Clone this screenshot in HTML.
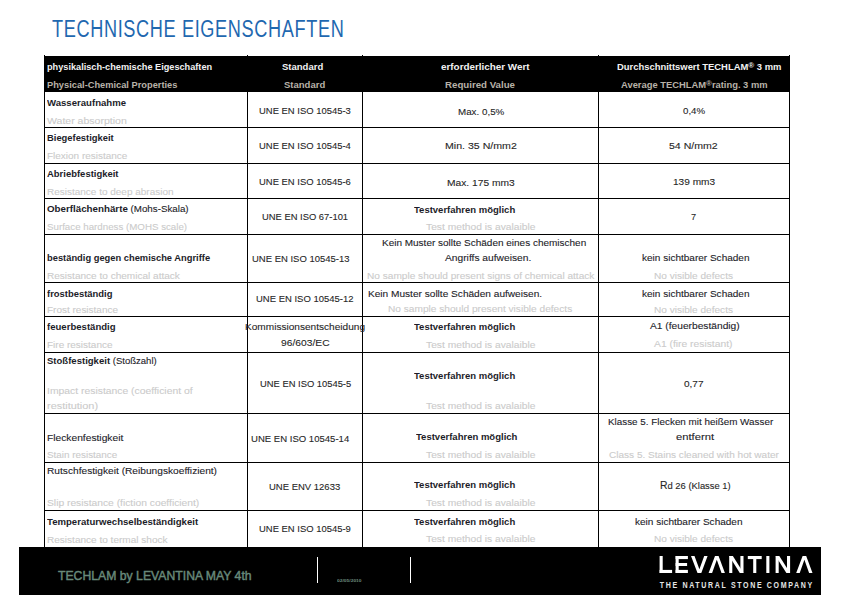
<!DOCTYPE html>
<html><head><meta charset="utf-8">
<style>
html,body{margin:0;padding:0;background:#fff;}
body{width:862px;height:608px;position:relative;overflow:hidden;font-family:"Liberation Sans",sans-serif;}
.t{position:absolute;white-space:nowrap;transform-origin:0 0;-webkit-text-stroke:0.1px currentColor;}
.t b{font-weight:bold;-webkit-text-stroke:0;}
.t.bb{-webkit-text-stroke:0;}
.t.g{-webkit-text-stroke:0.1px currentColor;}
.t.ti{-webkit-text-stroke:0;}
.t.ft{-webkit-text-stroke:0.45px currentColor;}
.t sup{font-size:8px;vertical-align:0;position:relative;top:-2.5px;}
.h{position:absolute;height:1px;background:#000;}
.v{position:absolute;width:1px;background:#000;}
#title{position:absolute;left:52px;top:18px;font-size:22px;line-height:22px;color:#2a6fb3;white-space:nowrap;transform-origin:0 0;}
#hdr{position:absolute;left:44px;top:56px;width:746px;height:36px;background:#000;}
#foot{position:absolute;left:19px;top:547px;width:802px;height:48px;background:#000;}
.fl{position:absolute;width:1px;height:26px;top:557px;background:#fff;}
</style></head><body>
<div id="hdr"></div>
<div class="h" style="left:44px;width:746px;top:127px"></div>
<div class="h" style="left:44px;width:746px;top:163px"></div>
<div class="h" style="left:44px;width:746px;top:198px"></div>
<div class="h" style="left:44px;width:746px;top:234px"></div>
<div class="h" style="left:44px;width:746px;top:282px"></div>
<div class="h" style="left:44px;width:746px;top:316px"></div>
<div class="h" style="left:44px;width:746px;top:352px"></div>
<div class="h" style="left:44px;width:746px;top:413px"></div>
<div class="h" style="left:44px;width:746px;top:462px"></div>
<div class="h" style="left:44px;width:746px;top:510px"></div>
<div class="v" style="left:44px;top:55px;height:492px"></div>
<div class="v" style="left:247px;top:55px;height:492px"></div>
<div class="v" style="left:362px;top:55px;height:492px"></div>
<div class="v" style="left:598px;top:55px;height:492px"></div>
<div class="v" style="left:789px;top:55px;height:492px"></div>
<div id="foot"></div>
<div class="fl" style="left:317px"></div>
<div class="fl" style="left:410px"></div>
<svg id="logo" style="position:absolute;left:0;top:0" width="862" height="608" viewBox="0 0 862 608">
<g fill="#fff">
<rect x="659.6" y="556" width="3.1" height="17"/>
<rect x="659.6" y="569.9" width="12.5" height="3.1"/>
<rect x="675.6" y="556" width="3.1" height="17"/>
<rect x="675.6" y="556" width="12.3" height="3.1"/>
<rect x="675.6" y="563" width="11.5" height="3"/>
<rect x="675.6" y="569.9" width="12.3" height="3.1"/>
<polygon points="691,556 694.5,556 699.4,569.3 704.2,556 707.6,556 701.3,573 697.5,573"/>
<polygon points="708.6,573 712.1,573 716.8,559.7 721.5,573 724.9,573 718.6,556 715,556"/>
<rect x="729.2" y="556" width="3.1" height="17"/>
<rect x="740.4" y="556" width="3.1" height="17"/>
<polygon points="729.2,556 732.9,556 743.5,573 739.8,573"/>
<rect x="747.8" y="556" width="13.9" height="3.1"/>
<rect x="753.2" y="556" width="3.1" height="17"/>
<rect x="766.3" y="556" width="3.1" height="17"/>
<rect x="775.6" y="556" width="3.1" height="17"/>
<rect x="787" y="556" width="3.1" height="17"/>
<polygon points="775.6,556 779.3,556 790.1,573 786.4,573"/>
<polygon points="796.2,573 799.7,573 804.4,559.7 809.1,573 812.5,573 806.2,556 802.6,556"/>
<text transform="translate(659.8,587.6) scale(0.8,1)" x="0" y="0" font-family="Liberation Sans" font-weight="bold" font-size="8.8" textLength="190.5" lengthAdjust="spacing" fill="#e6e6e6">THE NATURAL STONE COMPANY</text>

</g>
</svg>
<div class="t ti" style="left:52.00px;top:18.00px;font-size:23px;line-height:23px;font-weight:normal;color:#1f68b0;transform:scaleX(0.7889)"><span style="letter-spacing:0.8px">TECHNISCHE EIGENSCHAFTEN</span></div>
<div class="t bb" style="left:46.60px;top:62.00px;font-size:9.5px;line-height:9.5px;font-weight:bold;color:#f2f2f2;transform:scaleX(0.9651)">physikalisch-chemische Eigeschaften</div>
<div class="t bb" style="left:46.60px;top:80.00px;font-size:9.5px;line-height:9.5px;font-weight:bold;color:#b8b2a8;transform:scaleX(0.9761)">Physical-Chemical Properties</div>
<div class="t bb" style="left:282.00px;top:62.00px;font-size:9.5px;line-height:9.5px;font-weight:bold;color:#f2f2f2;transform:scaleX(1.0003)">Standard</div>
<div class="t bb" style="left:284.20px;top:80.00px;font-size:9.5px;line-height:9.5px;font-weight:bold;color:#b8b2a8;transform:scaleX(1.0003)">Standard</div>
<div class="t bb" style="left:440.60px;top:62.00px;font-size:9.5px;line-height:9.5px;font-weight:bold;color:#f2f2f2;transform:scaleX(1.0380)">erforderlicher Wert</div>
<div class="t bb" style="left:445.40px;top:80.00px;font-size:9.5px;line-height:9.5px;font-weight:bold;color:#b8b2a8;transform:scaleX(1.0198)">Required Value</div>
<div class="t bb" style="left:616.80px;top:62.00px;font-size:9.5px;line-height:9.5px;font-weight:bold;color:#f2f2f2;transform:scaleX(0.9912)">Durchschnittswert TECHLAM<sup>&reg;</sup> 3 mm</div>
<div class="t bb" style="left:620.60px;top:80.00px;font-size:9.5px;line-height:9.5px;font-weight:bold;color:#b8b2a8;transform:scaleX(0.9863)">Average TECHLAM<sup>&reg;</sup>rating. 3 mm</div>
<div class="t" style="left:46.90px;top:98.00px;font-size:9.5px;line-height:9.5px;font-weight:normal;color:#1c1c28;transform:scaleX(1.0099)"><b>Wasseraufnahme</b></div>
<div class="t g" style="left:46.90px;top:116.00px;font-size:9.5px;line-height:9.5px;font-weight:normal;color:#cbcbcb;transform:scaleX(1.1083)">Water absorption</div>
<div class="t" style="left:259.00px;top:106.20px;font-size:9.5px;line-height:9.5px;font-weight:normal;color:#262626;transform:scaleX(0.9934)">UNE EN ISO 10545-3</div>
<div class="t" style="left:457.50px;top:106.50px;font-size:9.5px;line-height:9.5px;font-weight:normal;color:#262626;transform:scaleX(1.0314)">Max. 0,5%</div>
<div class="t" style="left:682.60px;top:106.30px;font-size:9.5px;line-height:9.5px;font-weight:normal;color:#262626;transform:scaleX(1.0205)">0,4%</div>
<div class="t" style="left:46.90px;top:133.00px;font-size:9.5px;line-height:9.5px;font-weight:normal;color:#1c1c28;transform:scaleX(0.9870)"><b>Biegefestigkeit</b></div>
<div class="t g" style="left:46.90px;top:150.50px;font-size:9.5px;line-height:9.5px;font-weight:normal;color:#cbcbcb;transform:scaleX(1.0488)">Flexion resistance</div>
<div class="t" style="left:259.00px;top:141.00px;font-size:9.5px;line-height:9.5px;font-weight:normal;color:#262626;transform:scaleX(0.9934)">UNE EN ISO 10545-4</div>
<div class="t" style="left:444.60px;top:141.00px;font-size:9.5px;line-height:9.5px;font-weight:normal;color:#262626;transform:scaleX(1.1148)">Min. 35 N/mm2</div>
<div class="t" style="left:669.30px;top:141.00px;font-size:9.5px;line-height:9.5px;font-weight:normal;color:#262626;transform:scaleX(1.1112)">54 N/mm2</div>
<div class="t" style="left:46.90px;top:169.00px;font-size:9.5px;line-height:9.5px;font-weight:normal;color:#1c1c28;transform:scaleX(0.9959)"><b>Abriebfestigkeit</b></div>
<div class="t g" style="left:46.90px;top:186.80px;font-size:9.5px;line-height:9.5px;font-weight:normal;color:#cbcbcb;transform:scaleX(1.0505)">Resistance to deep abrasion</div>
<div class="t" style="left:259.00px;top:177.20px;font-size:9.5px;line-height:9.5px;font-weight:normal;color:#262626;transform:scaleX(0.9934)">UNE EN ISO 10545-6</div>
<div class="t" style="left:447.10px;top:177.50px;font-size:9.5px;line-height:9.5px;font-weight:normal;color:#262626;transform:scaleX(1.0775)">Max. 175 mm3</div>
<div class="t" style="left:672.60px;top:177.30px;font-size:9.5px;line-height:9.5px;font-weight:normal;color:#262626;transform:scaleX(1.0629)">139 mm3</div>
<div class="t" style="left:46.90px;top:204.00px;font-size:9.5px;line-height:9.5px;font-weight:normal;color:#1c1c28;transform:scaleX(1.0276)"><b>Oberfl&auml;chenh&auml;rte</b> (Mohs-Skala)</div>
<div class="t g" style="left:46.90px;top:221.50px;font-size:9.5px;line-height:9.5px;font-weight:normal;color:#cbcbcb;transform:scaleX(1.0245)">Surface hardness (MOHS scale)</div>
<div class="t" style="left:261.60px;top:212.00px;font-size:9.5px;line-height:9.5px;font-weight:normal;color:#262626;transform:scaleX(0.9882)">UNE EN ISO 67-101</div>
<div class="t" style="left:413.60px;top:204.90px;font-size:9.5px;line-height:9.5px;font-weight:normal;color:#1c1c28;transform:scaleX(1.0001)"><b>Testverfahren m&ouml;glich</b></div>
<div class="t g" style="left:426.00px;top:221.60px;font-size:9.5px;line-height:9.5px;font-weight:normal;color:#cbcbcb;transform:scaleX(1.0790)">Test method is avalaible</div>
<div class="t" style="left:691.10px;top:212.20px;font-size:9.5px;line-height:9.5px;font-weight:normal;color:#262626;transform:scaleX(0.9628)">7</div>
<div class="t" style="left:46.90px;top:252.80px;font-size:9.5px;line-height:9.5px;font-weight:normal;color:#1c1c28;transform:scaleX(0.9829)"><b>best&auml;ndig gegen chemische Angriffe</b></div>
<div class="t g" style="left:46.90px;top:270.70px;font-size:9.5px;line-height:9.5px;font-weight:normal;color:#cbcbcb;transform:scaleX(1.0575)">Resistance to chemical attack</div>
<div class="t" style="left:251.90px;top:253.50px;font-size:9.5px;line-height:9.5px;font-weight:normal;color:#262626;transform:scaleX(0.9981)">UNE EN ISO 10545-13</div>
<div class="t" style="left:382.10px;top:238.30px;font-size:9.5px;line-height:9.5px;font-weight:normal;color:#1c1c28;transform:scaleX(1.0508)">Kein Muster sollte Sch&auml;den eines chemischen</div>
<div class="t" style="left:445.20px;top:252.80px;font-size:9.5px;line-height:9.5px;font-weight:normal;color:#1c1c28;transform:scaleX(1.0775)">Angriffs aufweisen.</div>
<div class="t g" style="left:367.10px;top:271.20px;font-size:9.5px;line-height:9.5px;font-weight:normal;color:#cbcbcb;transform:scaleX(1.0633)">No sample should present signs of chemical attack</div>
<div class="t" style="left:642.10px;top:252.70px;font-size:9.5px;line-height:9.5px;font-weight:normal;color:#1c1c28;transform:scaleX(1.0547)">kein sichtbarer Schaden</div>
<div class="t g" style="left:654.40px;top:270.50px;font-size:9.5px;line-height:9.5px;font-weight:normal;color:#cbcbcb;transform:scaleX(1.0611)">No visible defects</div>
<div class="t" style="left:46.90px;top:288.70px;font-size:9.5px;line-height:9.5px;font-weight:normal;color:#1c1c28;transform:scaleX(0.9927)"><b>frostbest&auml;ndig</b></div>
<div class="t g" style="left:46.90px;top:305.00px;font-size:9.5px;line-height:9.5px;font-weight:normal;color:#cbcbcb;transform:scaleX(1.0506)">Frost resistance</div>
<div class="t" style="left:256.20px;top:294.20px;font-size:9.5px;line-height:9.5px;font-weight:normal;color:#262626;transform:scaleX(0.9981)">UNE EN ISO 10545-12</div>
<div class="t" style="left:367.60px;top:289.00px;font-size:9.5px;line-height:9.5px;font-weight:normal;color:#1c1c28;transform:scaleX(1.0634)">Kein Muster sollte Sch&auml;den aufweisen.</div>
<div class="t g" style="left:388.40px;top:304.00px;font-size:9.5px;line-height:9.5px;font-weight:normal;color:#cbcbcb;transform:scaleX(1.0667)">No sample should present visible defects</div>
<div class="t" style="left:642.10px;top:289.00px;font-size:9.5px;line-height:9.5px;font-weight:normal;color:#1c1c28;transform:scaleX(1.0547)">kein sichtbarer Schaden</div>
<div class="t g" style="left:654.40px;top:304.60px;font-size:9.5px;line-height:9.5px;font-weight:normal;color:#cbcbcb;transform:scaleX(1.0611)">No visible defects</div>
<div class="t" style="left:46.90px;top:321.90px;font-size:9.5px;line-height:9.5px;font-weight:normal;color:#1c1c28;transform:scaleX(1.0072)"><b>feuerbest&auml;ndig</b></div>
<div class="t g" style="left:46.90px;top:339.80px;font-size:9.5px;line-height:9.5px;font-weight:normal;color:#cbcbcb;transform:scaleX(1.0512)">Fire resistance</div>
<div class="t" style="left:245.20px;top:322.00px;font-size:9.5px;line-height:9.5px;font-weight:normal;color:#262626;transform:scaleX(1.0618)">Kommissionsentscheidung</div>
<div class="t" style="left:280.90px;top:337.80px;font-size:9.5px;line-height:9.5px;font-weight:normal;color:#262626;transform:scaleX(1.0823)">96/603/EC</div>
<div class="t" style="left:413.60px;top:321.70px;font-size:9.5px;line-height:9.5px;font-weight:normal;color:#1c1c28;transform:scaleX(1.0001)"><b>Testverfahren m&ouml;glich</b></div>
<div class="t g" style="left:426.00px;top:339.50px;font-size:9.5px;line-height:9.5px;font-weight:normal;color:#cbcbcb;transform:scaleX(1.0790)">Test method is avalaible</div>
<div class="t" style="left:649.90px;top:321.40px;font-size:9.5px;line-height:9.5px;font-weight:normal;color:#1c1c28;transform:scaleX(1.0749)">A1 (feuerbest&auml;ndig)</div>
<div class="t g" style="left:654.40px;top:338.70px;font-size:9.5px;line-height:9.5px;font-weight:normal;color:#cbcbcb;transform:scaleX(1.0853)">A1 (fire resistant)</div>
<div class="t" style="left:46.90px;top:355.80px;font-size:9.5px;line-height:9.5px;font-weight:normal;color:#1c1c28;transform:scaleX(1.0038)"><b>Sto&szlig;festigkeit</b> (Sto&szlig;zahl)</div>
<div class="t g" style="left:46.90px;top:385.80px;font-size:9.5px;line-height:9.5px;font-weight:normal;color:#cbcbcb;transform:scaleX(1.0913)">Impact resistance (coefficient of</div>
<div class="t g" style="left:46.90px;top:401.30px;font-size:9.5px;line-height:9.5px;font-weight:normal;color:#cbcbcb;transform:scaleX(1.1520)">restitution)</div>
<div class="t" style="left:259.50px;top:379.00px;font-size:9.5px;line-height:9.5px;font-weight:normal;color:#262626;transform:scaleX(0.9869)">UNE EN ISO 10545-5</div>
<div class="t" style="left:413.60px;top:370.50px;font-size:9.5px;line-height:9.5px;font-weight:normal;color:#1c1c28;transform:scaleX(1.0001)"><b>Testverfahren m&ouml;glich</b></div>
<div class="t g" style="left:426.00px;top:401.20px;font-size:9.5px;line-height:9.5px;font-weight:normal;color:#cbcbcb;transform:scaleX(1.0790)">Test method is avalaible</div>
<div class="t" style="left:684.00px;top:378.80px;font-size:9.5px;line-height:9.5px;font-weight:normal;color:#262626;transform:scaleX(1.0541)">0,77</div>
<div class="t" style="left:46.90px;top:432.50px;font-size:9.5px;line-height:9.5px;font-weight:normal;color:#1c1c28;transform:scaleX(1.0782)">Fleckenfestigkeit</div>
<div class="t g" style="left:46.90px;top:449.70px;font-size:9.5px;line-height:9.5px;font-weight:normal;color:#cbcbcb;transform:scaleX(1.0400)">Stain resistance</div>
<div class="t" style="left:251.40px;top:433.70px;font-size:9.5px;line-height:9.5px;font-weight:normal;color:#262626;transform:scaleX(1.0052)">UNE EN ISO 10545-14</div>
<div class="t" style="left:416.40px;top:432.40px;font-size:9.5px;line-height:9.5px;font-weight:normal;color:#1c1c28;transform:scaleX(1.0021)"><b>Testverfahren m&ouml;glich</b></div>
<div class="t g" style="left:426.00px;top:449.70px;font-size:9.5px;line-height:9.5px;font-weight:normal;color:#cbcbcb;transform:scaleX(1.0790)">Test method is avalaible</div>
<div class="t" style="left:608.30px;top:417.20px;font-size:9.5px;line-height:9.5px;font-weight:normal;color:#1c1c28;transform:scaleX(1.0384)">Klasse 5. Flecken mit hei&szlig;em Wasser</div>
<div class="t" style="left:676.00px;top:432.40px;font-size:9.5px;line-height:9.5px;font-weight:normal;color:#1c1c28;transform:scaleX(1.1794)">entfernt</div>
<div class="t g" style="left:608.70px;top:449.50px;font-size:9.5px;line-height:9.5px;font-weight:normal;color:#cbcbcb;transform:scaleX(1.0584)">Class 5. Stains cleaned with hot water</div>
<div class="t" style="left:46.90px;top:466.00px;font-size:9.5px;line-height:9.5px;font-weight:normal;color:#1c1c28;transform:scaleX(1.0708)">Rutschfestigkeit (Reibungskoeffizient)</div>
<div class="t g" style="left:46.90px;top:498.30px;font-size:9.5px;line-height:9.5px;font-weight:normal;color:#cbcbcb;transform:scaleX(1.0816)">Slip resistance (fiction coefficient)</div>
<div class="t" style="left:269.30px;top:482.00px;font-size:9.5px;line-height:9.5px;font-weight:normal;color:#262626;transform:scaleX(0.9986)">UNE ENV 12633</div>
<div class="t" style="left:413.60px;top:480.30px;font-size:9.5px;line-height:9.5px;font-weight:normal;color:#1c1c28;transform:scaleX(1.0001)"><b>Testverfahren m&ouml;glich</b></div>
<div class="t g" style="left:426.00px;top:498.20px;font-size:9.5px;line-height:9.5px;font-weight:normal;color:#cbcbcb;transform:scaleX(1.0790)">Test method is avalaible</div>
<div class="t" style="left:660.00px;top:481.40px;font-size:9.5px;line-height:9.5px;font-weight:normal;color:#262626;transform:scaleX(0.9888)"><span style="font-size:10.5px">R</span>d 26 (Klasse 1)</div>
<div class="t" style="left:46.90px;top:516.70px;font-size:9.5px;line-height:9.5px;font-weight:normal;color:#1c1c28;transform:scaleX(1.0089)"><b>Temperaturwechselbest&auml;ndigkeit</b></div>
<div class="t g" style="left:46.90px;top:534.70px;font-size:9.5px;line-height:9.5px;font-weight:normal;color:#cbcbcb;transform:scaleX(1.0566)">Resistance to termal shock</div>
<div class="t" style="left:259.00px;top:523.90px;font-size:9.5px;line-height:9.5px;font-weight:normal;color:#262626;transform:scaleX(0.9934)">UNE EN ISO 10545-9</div>
<div class="t" style="left:413.60px;top:516.50px;font-size:9.5px;line-height:9.5px;font-weight:normal;color:#1c1c28;transform:scaleX(1.0001)"><b>Testverfahren m&ouml;glich</b></div>
<div class="t g" style="left:426.00px;top:534.30px;font-size:9.5px;line-height:9.5px;font-weight:normal;color:#cbcbcb;transform:scaleX(1.0790)">Test method is avalaible</div>
<div class="t" style="left:635.00px;top:516.80px;font-size:9.5px;line-height:9.5px;font-weight:normal;color:#1c1c28;transform:scaleX(1.0547)">kein sichtbarer Schaden</div>
<div class="t g" style="left:654.40px;top:534.20px;font-size:9.5px;line-height:9.5px;font-weight:normal;color:#cbcbcb;transform:scaleX(1.0611)">No visible defects</div>
<div class="t ft" style="left:57.60px;top:569.00px;font-size:13px;line-height:13px;font-weight:normal;color:#68897a;transform:scaleX(0.9402)">TECHLAM by LEVANTINA MAY 4th</div>
<div class="t bb" style="left:336.60px;top:579.00px;font-size:4px;line-height:4px;font-weight:bold;color:#6d8c7f;transform:scaleX(1.2281)">02/05/2010</div>
</body></html>
